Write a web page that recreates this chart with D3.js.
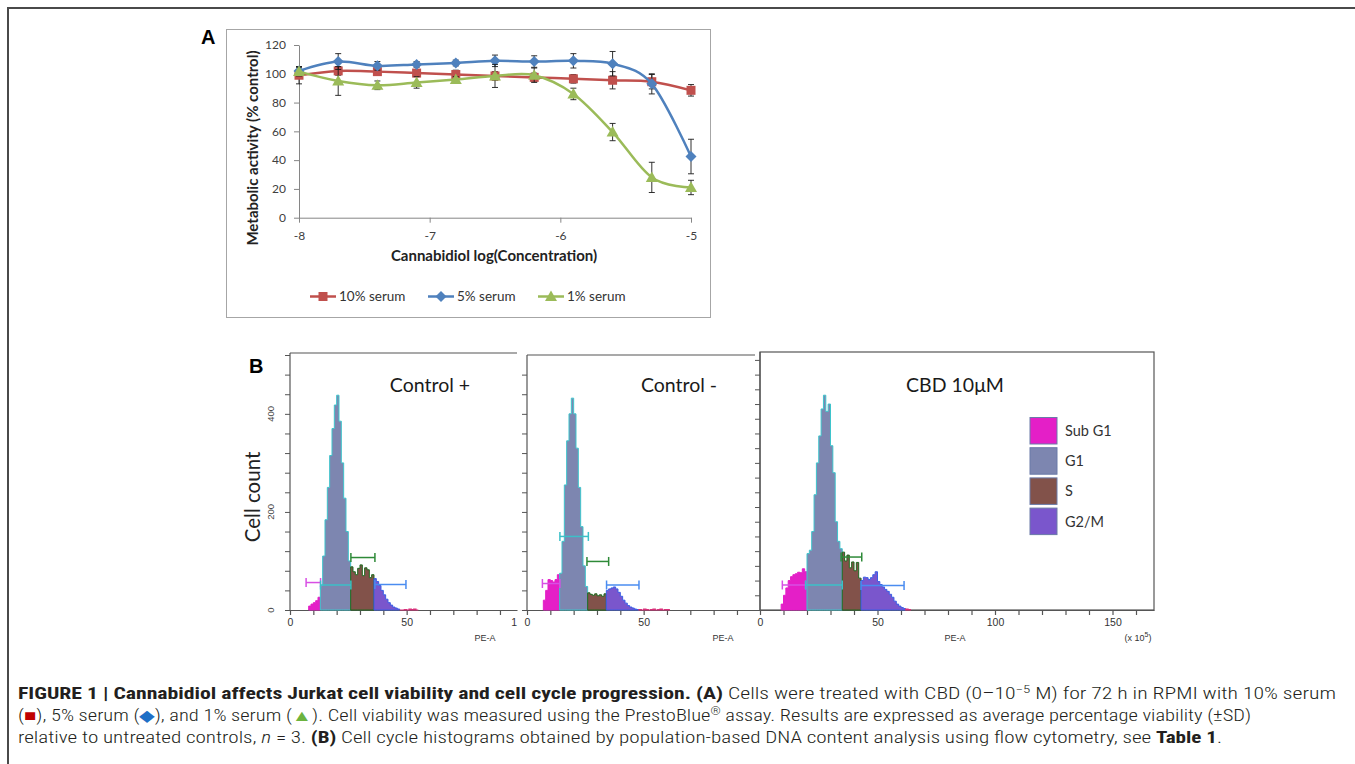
<!DOCTYPE html>
<html>
<head>
<meta charset="utf-8">
<script src="https://cdn.jsdelivr.net/npm/d3@7"></script>
<style>
  body { margin: 0; background: #fff; }
  svg { display: block; }
</style>
</head>
<body>
<div id="chart"></div>
<script>
// ---- Panel A: viability vs log concentration
const logConc = [-8, -7.7, -7.4, -7.1, -6.8, -6.5, -6.2, -5.9, -5.6, -5.3, -5]
const serum10 = [99, 102, 101.5, 100.5, 99.5, 98.5, 97.5, 96.5, 95.5, 94.5, 88.5]
const serum10Sd = [6, 3, 2, 2, 3, 3, 3, 3, 6, 5, 4]
const serum5 = [102, 108.5, 105.5, 106.5, 107.5, 109, 108.5, 109, 107, 93, 42.5]
const serum5Sd = [3, 5.5, 3, 2, 2, 4, 4, 5, 8.5, 7, 12]
const serum1 = [101.5, 95, 92, 94, 96, 98.5, 99, 86, 59.5, 28, 21]
const serum1Sd = [3, 10, 3, 4, 2, 8, 5, 4, 6, 10.5, 5]
const seriesNames = ["10% serum", "5% serum", "1% serum"]
const yTicksA = [0, 20, 40, 60, 80, 100, 120]
const xTicksA = [-8, -7, -6, -5]

// ---- Panel B: DNA content histograms (counts per 1 x10^5 PE-A bin)
const phaseNames = ["Sub G1", "G1", "S", "G2/M"]
const histTitles = ["Control +", "Control -", "CBD 10\u03bcM"]

const ctrlPlusStart = 8
const ctrlPlusCounts = [8, 12, 15, 19, 26,
  50, 110, 184, 250, 315, 370, 418, 438, 385, 300, 228, 160, 100,
  88, 78, 72, 85, 92, 70, 86, 82, 66, 72,
  64, 58, 50, 40, 31, 22, 15, 10, 6, 4, 2,
  0, 0, 1, 0, 2, 1, 2, 0]
const ctrlPlusGates = [8, 13, 26, 36, 47]
const ctrlPlusMarkers = [[6.9, 13.1, 56], [13.1, 26.1, 51], [26.1, 36.4, 107], [36.4, 49.7, 52]]

const ctrlMinusStart = 7
const ctrlMinusCounts = [20, 40, 62, 60, 57, 62, 72,
  75, 140, 255, 345, 400, 432, 400, 330, 250, 170, 90, 48,
  35, 32, 30, 33, 29, 31, 28, 33,
  40, 43, 45, 47, 43, 36, 28, 20, 14, 9, 6, 4, 2, 1,
  1, 0, 2, 1, 0, 1, 2, 0, 1, 2, 0, 1, 1]
const ctrlMinusGates = [7, 14, 26, 34, 48]
const ctrlMinusMarkers = [[6.6, 14.1, 54], [14.1, 26.3, 150], [25.7, 35, 99], [34.1, 48, 51]]

const cbdStart = 9
const cbdCounts = [12, 30, 45, 60, 68, 72, 74, 77, 76, 84, 78,
  115, 122, 160, 235, 300, 355, 410, 438, 405, 420, 335, 280, 180, 140, 125,
  118, 100, 112, 86, 98, 80, 97, 65,
  60, 67, 66, 62, 66, 72, 78, 58, 52, 47, 42, 38, 32, 26, 18, 12, 8, 5, 3,
  2, 1]
const cbdGates = [9, 20, 35, 43, 62]
const cbdMarkers = [[9.5, 19.4, 51], [19.4, 35, 51], [34.5, 43.3, 108], [43, 61.3, 50]]

// ---- styles
const seriesColors = ["#c0504d", "#4f81bd", "#9bbb59"]
const markerPaths = ["M-4.5,-4.5h9v9h-9z", "M0,-5.5L5.5,0L0,5.5L-5.5,0Z", "M0,-6L6,4.5L-6,4.5Z"]
const phaseFill = ["#e41fc7", "#7d86b0", "#82524a", "#7a56cc"]
const phaseLine = ["#e41fc7", "#3ec4cc", "#1f6a1f", "#3a5ee6"]
const gateColors = ["#d84fe4", "#3cc0c8", "#2e8a38", "#4a8cf0"]
const fontCal = "Lato, 'Open Sans', sans-serif"
const fontArial = "'Liberation Sans', Arial, sans-serif"

const svg = d3.select("#chart").append("svg")
    .attr("width", 1355)
    .attr("height", 764)

svg.append("rect")
    .attr("x", 8).attr("y", 8)
    .attr("width", 1400).attr("height", 800)
    .attr("fill", "none")
    .attr("stroke", "#4a4a4a")
    .attr("stroke-width", 2)

// ================= Panel A =================
const a = svg.append("g")

a.append("text")
    .attr("x", 201).attr("y", 44)
    .attr("font-family", fontArial).attr("font-weight", "bold").attr("font-size", 20)
    .text("A")

a.append("rect")
    .attr("x", 226.5).attr("y", 29.5)
    .attr("width", 484).attr("height", 288)
    .attr("fill", "#fff")
    .attr("stroke", "#a6a6a6")

const xA = d3.scaleLinear().domain([-8, -5]).range([299, 691])
const yA = d3.scaleLinear().domain([0, 120]).range([217.7, 45])

const yAxisA = a.append("g")
    .attr("transform", "translate(299,0)")
    .call(d3.axisLeft(yA).tickValues(yTicksA).tickSize(5).tickSizeOuter(0).tickPadding(8))
const xAxisA = a.append("g")
    .attr("transform", `translate(0,${yA(0)})`)
    .call(d3.axisBottom(xA).tickValues(xTicksA).tickSize(5).tickSizeOuter(0).tickPadding(9)
      .tickFormat(d => String(d)))

;[yAxisA, xAxisA].forEach(ax => {
  ax.selectAll("path, line").attr("stroke", "#868686")
  ax.selectAll("text")
      .attr("fill", "#404040")
      .attr("font-family", fontCal)
      .attr("font-size", 12)
})

a.append("text")
    .attr("x", 494).attr("y", 261)
    .attr("text-anchor", "middle")
    .attr("font-family", fontCal).attr("font-weight", "bold").attr("font-size", 15)
    .attr("fill", "#222")
    .text("Cannabidiol  log(Concentration)")

a.append("text")
    .attr("transform", "translate(258,148) rotate(-90)")
    .attr("text-anchor", "middle")
    .attr("font-family", fontCal).attr("font-weight", "bold").attr("font-size", 15)
    .attr("fill", "#222")
    .text("Metabolic activity (% control)")

const seriesA = [
  { values: serum10, sd: serum10Sd },
  { values: serum5, sd: serum5Sd },
  { values: serum1, sd: serum1Sd }
]

const lineA = d3.line()
    .x((d, i) => xA(logConc[i]))
    .y(d => yA(d))
    .curve(d3.curveCardinal.tension(0))

seriesA.forEach((s, k) => {
  const sg = a.append("g")
  const bars = sg.selectAll(".err")
    .data(s.values)
    .join("g")
      .attr("class", "err")
      .attr("stroke", "#1a1a1a")
      .attr("stroke-width", 0.9)
  bars.append("line")
      .attr("x1", (d, i) => xA(logConc[i])).attr("x2", (d, i) => xA(logConc[i]))
      .attr("y1", (d, i) => yA(d - s.sd[i])).attr("y2", (d, i) => yA(d + s.sd[i]))
  bars.append("line")
      .attr("x1", (d, i) => xA(logConc[i]) - 3).attr("x2", (d, i) => xA(logConc[i]) + 3)
      .attr("y1", (d, i) => yA(d + s.sd[i])).attr("y2", (d, i) => yA(d + s.sd[i]))
  bars.append("line")
      .attr("x1", (d, i) => xA(logConc[i]) - 3).attr("x2", (d, i) => xA(logConc[i]) + 3)
      .attr("y1", (d, i) => yA(d - s.sd[i])).attr("y2", (d, i) => yA(d - s.sd[i]))

  sg.append("path")
      .datum(s.values)
      .attr("d", lineA)
      .attr("fill", "none")
      .attr("stroke", seriesColors[k])
      .attr("stroke-width", 2.5)

  sg.selectAll(".mk")
    .data(s.values)
    .join("path")
      .attr("class", "mk")
      .attr("d", markerPaths[k])
      .attr("transform", (d, i) => `translate(${xA(logConc[i])},${yA(d)})`)
      .attr("fill", seriesColors[k])
})

// legend A
const legendA = a.append("g").attr("transform", "translate(0,296.5)")
const legendX = [310, 428, 538]
seriesNames.forEach((name, k) => {
  const lg = legendA.append("g").attr("transform", `translate(${legendX[k]},0)`)
  lg.append("line")
      .attr("x1", 0).attr("x2", 26)
      .attr("stroke", seriesColors[k]).attr("stroke-width", 2.5)
  lg.append("path")
      .attr("d", markerPaths[k])
      .attr("transform", "translate(13,0)")
      .attr("fill", seriesColors[k])
  lg.append("text")
      .attr("x", 29).attr("dy", "0.35em")
      .attr("font-family", fontCal).attr("font-size", 13.5)
      .attr("fill", "#333")
      .text(name)
})

// ================= Panel B =================
const b = svg.append("g")

b.append("text")
    .attr("x", 249).attr("y", 373)
    .attr("font-family", fontArial).attr("font-weight", "bold").attr("font-size", 20)
    .text("B")

b.append("text")
    .attr("transform", "translate(253,497) rotate(-90)")
    .attr("text-anchor", "middle")
    .attr("dy", "0.35em")
    .attr("font-family", fontCal).attr("font-size", 20.5)
    .attr("fill", "#222")
    .text("Cell count")

const yB = d3.scaleLinear().domain([0, 520]).range([610, 355])

const histLayout = [
  { counts: ctrlPlusCounts, start: ctrlPlusStart, gates: ctrlPlusGates, markers: ctrlPlusMarkers,
    x0: 290, pxPerUnit: 2.333, right: 517, top: 353, clip: [240, 518], yStep: 40, maxTick: 90,
    titleX: 430, peX: 485, frame: false },
  { counts: ctrlMinusCounts, start: ctrlMinusStart, gates: ctrlMinusGates, markers: ctrlMinusMarkers,
    x0: 527, pxPerUnit: 2.333, right: 755, top: 355, clip: [518, 757], yStep: 40, maxTick: 90,
    titleX: 679, peX: 723, frame: false },
  { counts: cbdCounts, start: cbdStart, gates: cbdGates, markers: cbdMarkers,
    x0: 760, pxPerUnit: 2.35, right: 1154, top: 352, clip: null, yStep: 30, maxTick: 160,
    titleX: 955, peX: 955, frame: true }
]

histLayout.forEach((cfg, idx) => {
  let g = b.append("g")
  if (cfg.clip) {
    const id = `clip${idx}`
    svg.append("clipPath").attr("id", id)
      .append("rect")
        .attr("x", cfg.clip[0]).attr("y", 330)
        .attr("width", cfg.clip[1] - cfg.clip[0]).attr("height", 320)
    g = g.attr("clip-path", `url(#${id})`)
  }

  const maxUnit = (cfg.right - cfg.x0) / cfg.pxPerUnit
  const x = d3.scaleLinear().domain([0, maxUnit]).range([cfg.x0, cfg.right])

  // frame
  if (cfg.frame) {
    g.append("rect")
        .attr("x", cfg.x0).attr("y", cfg.top)
        .attr("width", cfg.right - cfg.x0).attr("height", yB(0) - cfg.top)
        .attr("fill", "none").attr("stroke", "#555").attr("stroke-width", 1.2)
  } else {
    g.append("line")
        .attr("x1", cfg.x0).attr("x2", cfg.right)
        .attr("y1", cfg.top).attr("y2", cfg.top)
        .attr("stroke", "#555").attr("stroke-width", 1.2)
  }
  g.append("line")
      .attr("x1", cfg.x0).attr("x2", cfg.x0)
      .attr("y1", cfg.top).attr("y2", yB(0))
      .attr("stroke", "#555").attr("stroke-width", 1.2)

  // y ticks
  const yTicks = d3.range(0, yB.invert(cfg.top), cfg.yStep)
  g.append("g")
      .attr("transform", `translate(${cfg.x0},0)`)
      .call(d3.axisLeft(yB).tickValues(yTicks).tickSize(5).tickFormat(""))
      .call(ax => ax.select(".domain").remove())
      .selectAll("line").attr("stroke", "#555")

  // x axis
  const xAxis = g.append("g")
      .attr("transform", `translate(0,${yB(0)})`)
      .call(d3.axisBottom(x)
        .tickValues(d3.range(0, cfg.maxTick + 1, 10))
        .tickSize(5).tickSizeOuter(0).tickPadding(4)
        .tickFormat(d => d % 50 === 0 ? d : ""))
  xAxis.selectAll("path, line").attr("stroke", "#555").attr("stroke-width", 1.2)
  xAxis.selectAll("text")
      .attr("fill", "#333")
      .attr("font-family", fontArial)
      .attr("font-size", 10.5)

  // histogram areas per phase
  const bins = cfg.counts.map((c, i) => ({ u: cfg.start + i, c: c }))
  const area = d3.area()
      .x(d => x(d.u))
      .y0(yB(0))
      .y1(d => yB(d.c))
      .curve(d3.curveStepAfter)

  phaseNames.forEach((p, k) => {
    const pts = bins.filter(d => d.u >= cfg.gates[k] && d.u < cfg.gates[k + 1])
    const last = pts[pts.length - 1]
    g.append("path")
        .datum(pts.concat([{ u: cfg.gates[k + 1], c: last.c }]))
        .attr("d", area)
        .attr("fill", phaseFill[k])
        .attr("stroke", phaseLine[k])
        .attr("stroke-width", 1)
        .attr("stroke-linejoin", "round")
  })
  const tail = bins.filter(d => d.u >= cfg.gates[4])
  if (tail.length) {
    g.append("path")
        .datum(tail.concat([{ u: tail[tail.length - 1].u + 1, c: 0 }]))
        .attr("d", area)
        .attr("fill", "#d8307a")
        .attr("stroke", "#d8307a")
        .attr("stroke-width", 1.2)
  }

  // gate markers
  cfg.markers.forEach((m, k) => {
    const mg = g.append("g")
        .attr("stroke", gateColors[k])
        .attr("stroke-width", 1.5)
    mg.append("line")
        .attr("x1", x(m[0])).attr("x2", x(m[1]))
        .attr("y1", yB(m[2])).attr("y2", yB(m[2]))
    mg.selectAll(".cap")
      .data([m[0], m[1]])
      .join("line")
        .attr("class", "cap")
        .attr("x1", d => x(d)).attr("x2", d => x(d))
        .attr("y1", yB(m[2]) - 4.5).attr("y2", yB(m[2]) + 4.5)
  })

  g.append("text")
      .attr("x", cfg.titleX).attr("y", 392)
      .attr("text-anchor", "middle")
      .attr("font-family", fontCal).attr("font-size", 19.5)
      .attr("fill", "#1a1a1a")
      .text(histTitles[idx])

  g.append("text")
      .attr("x", cfg.peX).attr("y", 641)
      .attr("text-anchor", "middle")
      .attr("font-family", fontArial).attr("font-size", 9)
      .attr("fill", "#333")
      .text("PE-A")
})

// cropped "100" of the first histogram: only its first digit shows
b.append("text")
    .attr("x", 517).attr("y", 618.5)
    .attr("text-anchor", "end")
    .attr("dy", "0.71em")
    .attr("font-family", fontArial).attr("font-size", 10.5)
    .attr("fill", "#333")
    .text("1")

// y tick labels of first histogram
b.selectAll(".ylab")
  .data([0, 200, 400])
  .join("text")
    .attr("class", "ylab")
    .attr("transform", d => `translate(271,${yB(d)}) rotate(-90)`)
    .attr("text-anchor", "middle")
    .attr("dy", "0.35em")
    .attr("font-family", fontArial).attr("font-size", 9.5)
    .attr("fill", "#444")
    .text(d => d)

// unit label
const unitLab = b.append("text")
    .attr("x", 1138).attr("y", 641)
    .attr("text-anchor", "middle")
    .attr("font-family", fontArial).attr("font-size", 9)
    .attr("fill", "#333")
unitLab.append("tspan").text("(x 10")
unitLab.append("tspan").attr("dy", -4).attr("font-size", 7).text("5")
unitLab.append("tspan").attr("dy", 4).text(")")

// legend B
const legendB = b.append("g").attr("transform", "translate(1030,417.5)")
phaseNames.forEach((name, k) => {
  legendB.append("rect")
      .attr("x", 0).attr("y", k * 30.2)
      .attr("width", 27).attr("height", 26.5)
      .attr("fill", phaseFill[k])
      .attr("stroke", "#6a7aa8")
      .attr("stroke-width", 1)
  legendB.append("text")
      .attr("x", 35).attr("y", k * 30.2 + 13.5)
      .attr("dy", "0.35em")
      .attr("font-family", fontCal).attr("font-size", 14.5)
      .attr("fill", "#333")
      .text(name)
})

// ================= Caption =================
const cap = svg.append("g")
    .attr("font-family", "'Roboto Condensed', 'Liberation Sans Narrow', 'Arial Narrow', Roboto, 'Liberation Sans', Arial, sans-serif")
    .attr("font-size", 16)
    .attr("font-weight", 300)
    .attr("fill", "#231f20")

const l1 = cap.append("text").attr("x", 18).attr("y", 699)
    .attr("textLength", 1318).attr("lengthAdjust", "spacingAndGlyphs")
l1.append("tspan").attr("font-weight", "bold")
    .text("FIGURE 1 | Cannabidiol affects Jurkat cell viability and cell cycle progression. (A)")
l1.append("tspan").text(" Cells were treated with CBD (0\u201310")
l1.append("tspan").attr("dy", -6).attr("font-size", 11).text("\u22125")
l1.append("tspan").attr("dy", 6).text(" M) for 72 h in RPMI with 10% serum")

const l2 = cap.append("text").attr("x", 18).attr("y", 721)
    .attr("textLength", 1233).attr("lengthAdjust", "spacingAndGlyphs")
l2.append("tspan").text("(")
l2.append("tspan").attr("fill", "#c00000").text("\u25a0")
l2.append("tspan").text("), 5% serum (")
l2.append("tspan").attr("fill", "#1f6fc6").text("\u25c6")
l2.append("tspan").text("), and 1% serum (")
l2.append("tspan").attr("fill", "#6cb33f").text("\u25b2")
l2.append("tspan").text("). Cell viability was measured using the PrestoBlue")
l2.append("tspan").attr("dy", -6).attr("font-size", 10).text("\u00ae")
l2.append("tspan").attr("dy", 6).text("  assay. Results are expressed as average percentage viability (\u00b1SD)")

const l3 = cap.append("text").attr("x", 18).attr("y", 743)
    .attr("textLength", 1204).attr("lengthAdjust", "spacingAndGlyphs")
l3.append("tspan").text("relative to untreated controls, ")
l3.append("tspan").attr("font-style", "italic").text("n")
l3.append("tspan").text(" = 3. ")
l3.append("tspan").attr("font-weight", "bold").text("(B)")
l3.append("tspan").text(" Cell cycle histograms obtained by population-based DNA content analysis using flow cytometry, see ")
l3.append("tspan").attr("font-weight", "bold").text("Table 1")
l3.append("tspan").text(".")
</script>
</body>
</html>
